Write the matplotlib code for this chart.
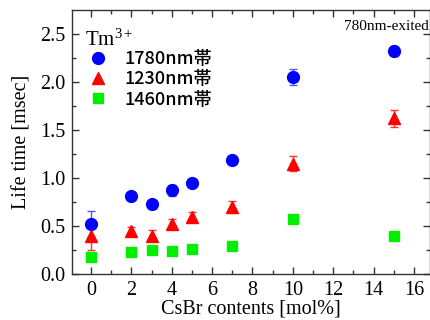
import matplotlib
matplotlib.use("Agg")
import matplotlib.pyplot as plt
from matplotlib.lines import Line2D

x = [0, 2, 3, 4, 5, 7, 10, 15]
life_1780 = [0.52, 0.81, 0.73, 0.87, 0.95, 1.19, 2.05, 2.32]
err_1780 = [0.14, 0.02, 0.02, 0.06, 0.02, 0.02, 0.08, 0.05]
life_1230 = [0.40, 0.45, 0.40, 0.52, 0.59, 0.70, 1.15, 1.62]
err_1230 = [0.15, 0.04, 0.06, 0.05, 0.05, 0.06, 0.08, 0.09]
life_1460 = [0.18, 0.23, 0.25, 0.24, 0.26, 0.29, 0.57, 0.40]
labels = ["1780nm帯", "1230nm帯", "1460nm帯"]
xticks = [0, 2, 4, 6, 8, 10, 12, 14, 16]
yticks = [0.0, 0.5, 1.0, 1.5, 2.0, 2.5]

serif = "Liberation Serif"
plt.rcParams["font.family"] = [serif, "DejaVu Serif"]
plt.rcParams["mathtext.fontset"] = "custom"
plt.rcParams["mathtext.rm"] = serif
plt.rcParams["mathtext.it"] = serif

fig = plt.figure(figsize=(4.31, 3.2), dpi=100)
ax = fig.add_axes([0.167, 0.144, 0.831, 0.825])

ax.errorbar(x, life_1780, yerr=err_1780, fmt="o", color="#0000ff", ms=8.5,
            ecolor="#5555ff", elinewidth=1.0, capsize=3, capthick=1.0)
ax.errorbar(x, life_1230, yerr=err_1230, fmt="^", color="#ff0000", ms=9,
            ecolor="#ff3333", elinewidth=1.0, capsize=3, capthick=1.0)
ax.plot(x, life_1460, "s", color="#00ee00", ms=7.5)

handles = [Line2D([], [], ls="none", marker="o", color="#0000ff", ms=8.5),
           Line2D([], [], ls="none", marker="^", color="#ff0000", ms=9),
           Line2D([], [], ls="none", marker="s", color="#00ee00", ms=7.5)]

ax.set_xlim(-0.94, 16.8)
ax.set_ylim(0, 2.75)
ax.set_xticks(xticks)
ax.set_xticklabels([str(t) for t in xticks])
ax.set_yticks(yticks)
ax.set_yticklabels([f"{t:.1f}" for t in yticks])
ax.set_xticks([1, 3, 5, 7, 9, 11, 13, 15], minor=True)
ax.set_yticks([0.25, 0.75, 1.25, 1.75, 2.25], minor=True)
ax.tick_params(which="both", direction="in", top=True, right=True, labelsize=14.5, width=1.0, color="#333333")
ax.tick_params(which="major", length=5, pad=5)
ax.tick_params(which="minor", length=3)
for s in ax.spines.values():
    s.set_linewidth(1.0)
    s.set_color("#333333")

ax.set_xlabel("CsBr contents [mol%]", fontsize=14.5, labelpad=0)
ax.set_ylabel("Life time [msec]", fontsize=14.5, labelpad=6)

leg = ax.legend(handles, labels, loc="upper left", bbox_to_anchor=(0.0, 0.895),
                frameon=False,
                prop={"family": ["Noto Sans CJK JP", "DejaVu Sans"], "size": 13, "weight": "medium"},
                handletextpad=0.7, labelspacing=0.12, borderaxespad=0.3, handlelength=1.5)
ax.text(0.035, 0.925, "Tm$^{3+}$", transform=ax.transAxes, fontsize=15, va="top", ha="left")
ax.text(0.995, 0.96, "780nm-exited", transform=ax.transAxes, fontsize=11, va="top", ha="right")

fig.savefig("out.png", dpi=100)
